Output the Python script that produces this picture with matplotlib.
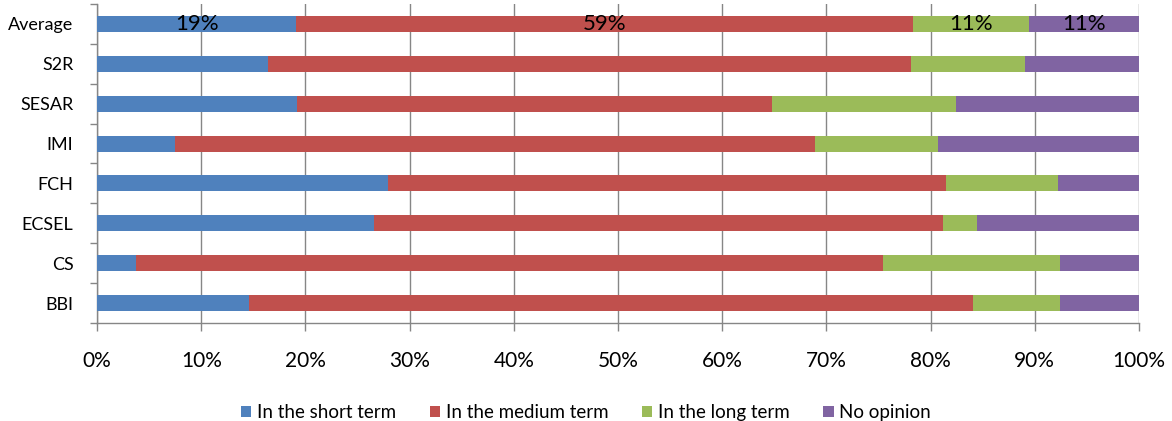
import numpy as np
import matplotlib
matplotlib.use("Agg")
from matplotlib import pyplot as plt

# Catégories (de haut en bas) et parts de chaque réponse (%)
programmes = ["Average", "S2R", "SESAR", "IMI", "FCH", "ECSEL", "CS", "BBI"]
short_term = [19.1, 16.45, 19.15, 7.45, 27.9, 26.6, 3.75, 14.55]
medium_term = [59.2, 61.65, 45.65, 61.45, 53.6, 54.6, 71.65, 69.55]
long_term = [11.1, 11.0, 17.6, 11.8, 10.7, 3.3, 17.0, 8.3]
no_opinion = [10.6, 10.9, 17.6, 19.3, 7.8, 15.5, 7.6, 7.6]

series_names = ["In the short term", "In the medium term", "In the long term", "No opinion"]
colors = ["#4F81BD", "#C0504D", "#9BBB59", "#8064A2"]
x_ticks = np.arange(0, 101, 10)

plt.rcParams["font.family"] = ["Lato", "DejaVu Sans"]

fig = plt.figure(figsize=(11.72, 4.21), dpi=100)
ax = fig.add_axes([0.0828, 0.2328, 0.8890, 0.7577])

y = np.arange(len(programmes))[::-1]
left = np.zeros(len(programmes))
handles = []
for name, vals, col in zip(series_names, [short_term, medium_term, long_term, no_opinion], colors):
    vals = np.asarray(vals)
    h = ax.barh(y, vals, left=left, height=0.4, color=col, label=name, zorder=3)
    handles.append(h)
    # étiquettes seulement sur la ligne "Average"
    ax.text(left[0] + vals[0] / 2, y[0], "%d%%" % round(vals[0]),
            ha="center", va="center", fontsize=16, color="black", zorder=4)
    left = left + vals

ax.set_xlim(0, 100)
ax.set_ylim(-0.5, len(programmes) - 0.5)
ax.set_xticks(x_ticks)
ax.set_xticklabels(["%d%%" % t for t in x_ticks], fontsize=15)
ax.set_yticks(y)
ax.set_yticklabels(programmes, fontsize=13)
ax.set_yticks(np.arange(-0.5, len(programmes), 1), minor=True)

ax.tick_params(axis="y", which="major", length=0, pad=17)
ax.tick_params(axis="y", which="minor", length=5, color="#868686", width=1)
ax.tick_params(axis="x", which="major", length=6, color="#868686", width=1, pad=14)

ax.grid(axis="x", color="#868686", linewidth=1, zorder=0)
for s in ["top", "right"]:
    ax.spines[s].set_visible(False)
for s in ["left", "bottom"]:
    ax.spines[s].set_color("#868686")
    ax.spines[s].set_linewidth(1)

fig.legend(handles=handles, loc="lower center", bbox_to_anchor=(0.5, -0.04), ncol=4,
           frameon=False, fontsize=13.5, handlelength=0.55, handleheight=0.55,
           handletextpad=0.3, columnspacing=1.8)

fig.savefig("out.png", dpi=100)
